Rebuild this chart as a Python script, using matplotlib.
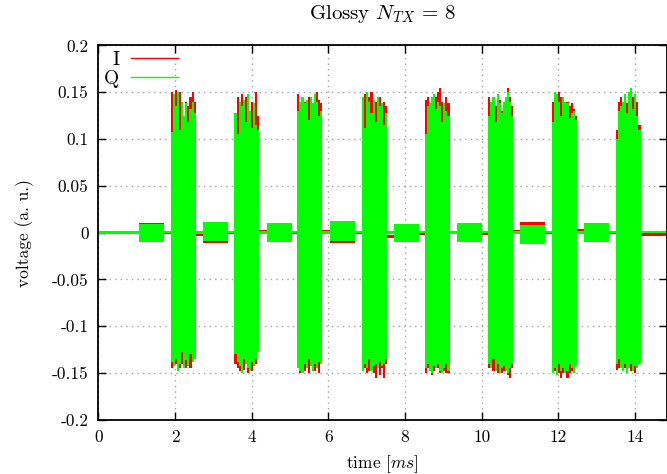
import matplotlib
matplotlib.use("Agg")
import matplotlib.pyplot as plt
from matplotlib.lines import Line2D
import numpy as np

plt.rcParams['font.family'] = 'serif'
plt.rcParams['font.serif'] = ['cmr10', 'DejaVu Serif']
plt.rcParams['mathtext.fontset'] = 'cm'
plt.rcParams['axes.unicode_minus'] = False
plt.rcParams['font.size'] = 12.5

# big bursts: start time [ms], length, envelope (12 steps each)
big_start = [1.89, 3.55, 5.19, 6.88, 8.51, 10.17, 11.83, 13.49]
big_len = 0.65
big_Q_hi = [
    [0.108, 0.148, 0.135, 0.150, 0.110, 0.140, 0.125, 0.138, 0.118, 0.132, 0.140, 0.128],
    [0.128, 0.105, 0.140, 0.135, 0.142, 0.118, 0.148, 0.130, 0.112, 0.138, 0.115, 0.110],
    [0.130, 0.140, 0.145, 0.138, 0.142, 0.120, 0.145, 0.138, 0.148, 0.140, 0.125, 0.130],
    [0.145, 0.112, 0.150, 0.140, 0.128, 0.142, 0.118, 0.145, 0.135, 0.138, 0.115, 0.128],
    [0.105, 0.135, 0.138, 0.145, 0.148, 0.132, 0.140, 0.135, 0.118, 0.138, 0.130, 0.125],
    [0.125, 0.140, 0.145, 0.118, 0.148, 0.138, 0.128, 0.140, 0.145, 0.150, 0.140, 0.125],
    [0.118, 0.150, 0.148, 0.140, 0.125, 0.145, 0.140, 0.138, 0.122, 0.128, 0.130, 0.120],
    [0.100, 0.130, 0.135, 0.140, 0.148, 0.128, 0.150, 0.155, 0.132, 0.148, 0.125, 0.110],
]
big_Q_lo = [
    [-0.138, -0.143, -0.135, -0.148, -0.140, -0.128, -0.145, -0.136, -0.142, -0.130, -0.138, -0.135],
    [-0.130, -0.138, -0.142, -0.150, -0.135, -0.140, -0.145, -0.148, -0.138, -0.142, -0.135, -0.128],
    [-0.145, -0.148, -0.150, -0.140, -0.145, -0.135, -0.142, -0.148, -0.140, -0.145, -0.138, -0.140],
    [-0.148, -0.140, -0.145, -0.135, -0.148, -0.142, -0.140, -0.145, -0.138, -0.142, -0.140, -0.135],
    [-0.145, -0.140, -0.148, -0.150, -0.142, -0.145, -0.140, -0.148, -0.150, -0.145, -0.140, -0.148],
    [-0.140, -0.145, -0.135, -0.148, -0.140, -0.150, -0.145, -0.142, -0.148, -0.150, -0.145, -0.140],
    [-0.150, -0.145, -0.152, -0.140, -0.148, -0.145, -0.150, -0.148, -0.140, -0.145, -0.150, -0.142],
    [-0.140, -0.135, -0.145, -0.148, -0.140, -0.150, -0.145, -0.140, -0.148, -0.142, -0.145, -0.140],
]
big_I_hi = [
    [0.150, 0.140, 0.152, 0.145, 0.150, 0.130, 0.118, 0.140, 0.135, 0.145, 0.150, 0.140],
    [0.120, 0.145, 0.130, 0.148, 0.140, 0.145, 0.135, 0.120, 0.140, 0.110, 0.150, 0.125],
    [0.148, 0.135, 0.125, 0.140, 0.138, 0.145, 0.132, 0.128, 0.140, 0.150, 0.142, 0.138],
    [0.130, 0.148, 0.140, 0.145, 0.150, 0.130, 0.140, 0.135, 0.145, 0.130, 0.140, 0.135],
    [0.142, 0.145, 0.130, 0.140, 0.135, 0.145, 0.150, 0.155, 0.140, 0.130, 0.145, 0.138],
    [0.145, 0.130, 0.140, 0.135, 0.140, 0.142, 0.130, 0.138, 0.140, 0.155, 0.145, 0.135],
    [0.140, 0.145, 0.135, 0.150, 0.145, 0.138, 0.130, 0.140, 0.135, 0.138, 0.132, 0.125],
    [0.110, 0.140, 0.145, 0.135, 0.142, 0.138, 0.130, 0.140, 0.145, 0.135, 0.140, 0.115],
]
big_I_lo = [
    [-0.145, -0.140, -0.140, -0.130, -0.145, -0.140, -0.135, -0.145, -0.140, -0.145, -0.135, -0.130],
    [-0.140, -0.145, -0.148, -0.140, -0.147, -0.135, -0.150, -0.140, -0.148, -0.135, -0.140, -0.118],
    [-0.140, -0.150, -0.145, -0.148, -0.140, -0.150, -0.138, -0.145, -0.148, -0.140, -0.150, -0.135],
    [-0.140, -0.145, -0.150, -0.148, -0.140, -0.150, -0.155, -0.140, -0.152, -0.145, -0.155, -0.140],
    [-0.150, -0.145, -0.140, -0.152, -0.148, -0.140, -0.145, -0.150, -0.140, -0.148, -0.150, -0.150],
    [-0.145, -0.140, -0.148, -0.140, -0.150, -0.145, -0.150, -0.148, -0.140, -0.152, -0.155, -0.145],
    [-0.140, -0.148, -0.145, -0.150, -0.155, -0.150, -0.148, -0.155, -0.150, -0.148, -0.145, -0.140],
    [-0.147, -0.145, -0.140, -0.148, -0.145, -0.150, -0.140, -0.148, -0.145, -0.150, -0.140, -0.135],
]

# small bursts
small_start = [1.07, 2.72, 4.40, 6.05, 7.70, 9.35, 11.00, 12.67]
small_len = 0.65
small_Q_hi = [0.0093, 0.011, 0.010, 0.0128, 0.0093, 0.010, 0.008, 0.010]
small_Q_lo = [-0.010, -0.0085, -0.0096, -0.0085, -0.010, -0.010, -0.012, -0.0096]
small_I_hi = [0.0098, 0.009, 0.0105, 0.010, 0.0095, 0.0095, 0.0117, 0.0105]
small_I_lo = [-0.0105, -0.011, -0.0092, -0.011, -0.0105, -0.0095, -0.011, -0.009]

# quiet stretches between bursts: (start, end) and signal level
gap_t = [(0.0, 1.07), (1.72, 1.89), (2.54, 2.72), (3.37, 3.55), (4.20, 4.40),
         (5.05, 5.19), (5.84, 6.05), (6.70, 6.88), (7.53, 7.70), (8.35, 8.51),
         (9.16, 9.35), (10.00, 10.17), (10.82, 11.00), (11.65, 11.83),
         (12.48, 12.67), (13.32, 13.49), (14.14, 15.0)]
gap_I = [0.0, 0.0, -0.002, 0.0, 0.0015, 0.0, 0.001, 0.0, -0.004, -0.001,
         0.0, -0.001, 0.002, 0.0, 0.003, 0.0, -0.002]
gap_Q = [0.0, 0.0005, 0.0, 0.0005, 0.0, 0.0005, 0.0, 0.0005, 0.0, 0.0005,
         0.0, 0.0005, 0.0, 0.0005, 0.0, 0.0005, 0.0008]
gap_w = 0.0013

xticks = [0, 2, 4, 6, 8, 10, 12, 14]
yticks = [-0.2, -0.15, -0.1, -0.05, 0, 0.05, 0.1, 0.15, 0.2]
ytick_labels = ['-0.2', '-0.15', '-0.1', '-0.05', '0', '0.05', '0.1', '0.15', '0.2']

red = '#ff0000'
green = '#00ff00'

fig = plt.figure(figsize=(6.67, 4.74), dpi=100)
ax = fig.add_axes([0.1474, 0.1143, 0.8526, 0.7899])


def draw(lo, hi, t0, length, color):
    lo = np.atleast_1d(lo)
    hi = np.atleast_1d(hi)
    t = np.linspace(t0, t0 + length, len(lo) + 1)
    ax.fill_between(t, np.append(lo, lo[-1]), np.append(hi, hi[-1]),
                    step='post', color=color, lw=0, zorder=2)


for (a, b), lev in zip(gap_t, gap_I):
    draw(lev - gap_w, lev + gap_w, a, b - a, red)
for i, t0 in enumerate(small_start):
    draw(small_I_lo[i], small_I_hi[i], t0, small_len, red)
for i, t0 in enumerate(big_start):
    draw(big_I_lo[i], big_I_hi[i], t0, big_len, red)

for (a, b), lev in zip(gap_t, gap_Q):
    draw(lev - gap_w, lev + gap_w, a, b - a, green)
for i, t0 in enumerate(small_start):
    draw(small_Q_lo[i], small_Q_hi[i], t0, small_len, green)
for i, t0 in enumerate(big_start):
    draw(big_Q_lo[i], big_Q_hi[i], t0, big_len, green)

ax.set_xlim(0, 14.83)
ax.set_ylim(-0.2, 0.2)
ax.set_xticks(xticks)
ax.set_xticklabels([str(x) for x in xticks])
ax.set_yticks(yticks)
ax.set_yticklabels(ytick_labels)
ax.tick_params(direction='in', length=6, width=1, top=True, right=True, pad=7)
ax.grid(True, color='#a0a0a0', linestyle=(0, (1, 3)), linewidth=1)
for s in ax.spines.values():
    s.set_linewidth(1.3)

ax.set_title(r'Glossy $N_{TX}$ = 8', pad=19)
ax.set_xlabel(r'time [$ms$]', labelpad=6)
ax.set_ylabel('voltage (a. u.)', labelpad=13)

handles = [Line2D([], [], color=red, lw=1), Line2D([], [], color=green, lw=1)]
ax.legend(handles, ['I', 'Q'], loc='upper left', frameon=False, markerfirst=False,
          handlelength=2.4, handletextpad=0.6, labelspacing=0.05,
          borderaxespad=0.1, borderpad=0.2, fontsize=14)

fig.savefig('out.png', dpi=100)
